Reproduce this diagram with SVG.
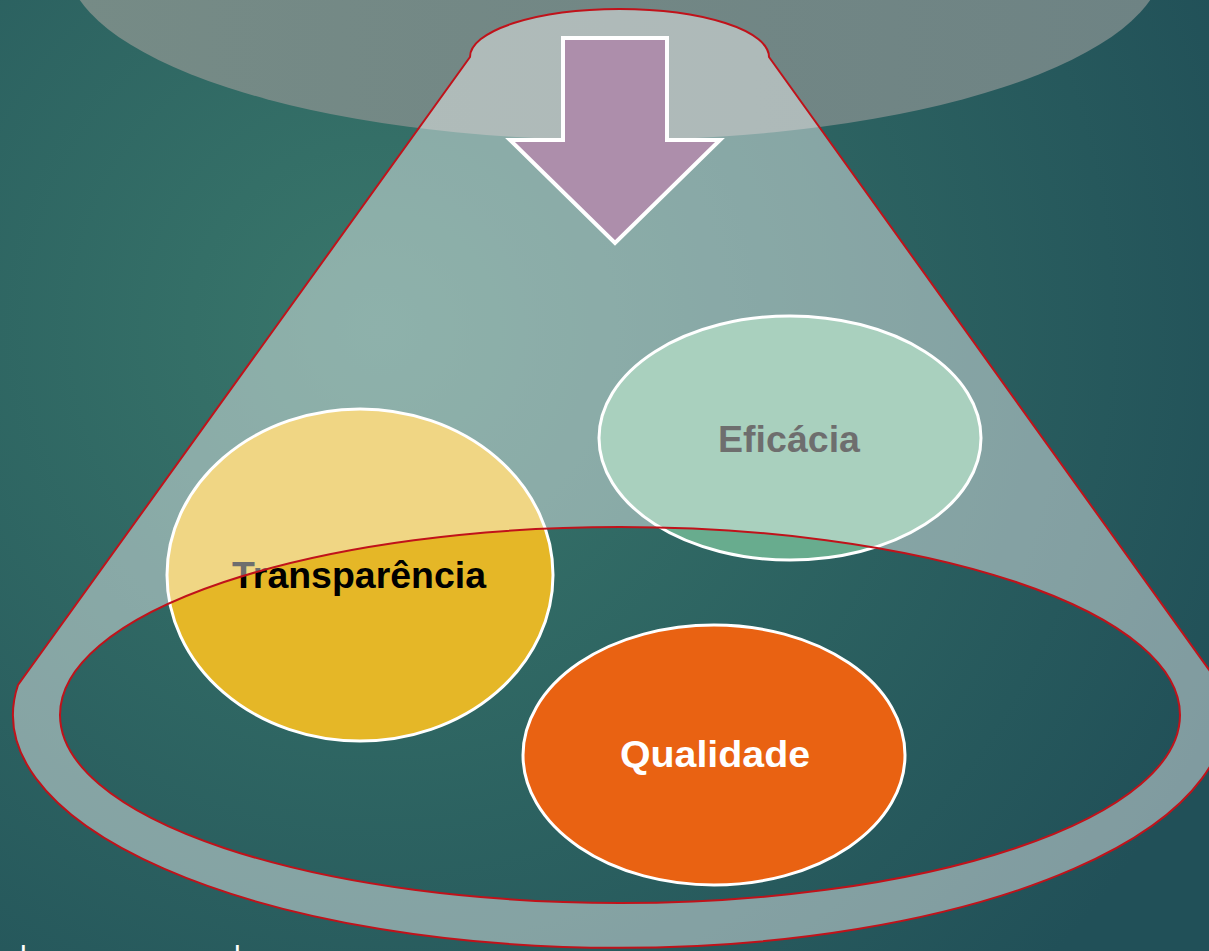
<svg xmlns="http://www.w3.org/2000/svg" width="1209" height="951" viewBox="0 0 1209 951">
  <defs>
    <radialGradient id="bg" gradientUnits="userSpaceOnUse" cx="380" cy="330" r="920">
      <stop offset="0" stop-color="#39776b"/>
      <stop offset="1" stop-color="#215058"/>
    </radialGradient>
    <linearGradient id="topg" x1="0" y1="0" x2="1" y2="0">
      <stop offset="0" stop-color="#768b86"/>
      <stop offset="1" stop-color="#6e8384"/>
    </linearGradient>
  </defs>
  <style>
    .node { stroke: #ffffff; stroke-width: 3; }
    .lbl { font-family: "Liberation Sans", Arial, sans-serif; font-weight: bold; font-size: 36px; text-anchor: middle; }
    .funnel { fill: #ffffff; fill-opacity: 0.43; stroke: #c0121a; stroke-width: 2; fill-rule: evenodd; }
  </style>
  <rect x="0" y="0" width="1209" height="951" fill="url(#bg)"/>
  <ellipse id="top-ellipse" cx="615" cy="-40" rx="549" ry="180" fill="url(#topg)"/>

  <g id="node-eficacia">
    <ellipse class="node" cx="790" cy="438" rx="191" ry="122" fill="#68ac8e"/>
    <text class="lbl" x="789" y="452" fill="#000000" textLength="142" lengthAdjust="spacingAndGlyphs">Eficácia</text>
  </g>
  <g id="node-transparencia">
    <ellipse class="node" cx="360" cy="575" rx="193" ry="166" fill="#e5b727"/>
    <text class="lbl" x="359" y="588" fill="#000000" textLength="254" lengthAdjust="spacingAndGlyphs">Transparência</text>
  </g>
  <g id="node-qualidade">
    <ellipse class="node" cx="714" cy="755" rx="191" ry="130" fill="#e96212"/>
    <text class="lbl" x="715" y="767" fill="#ffffff" textLength="190" lengthAdjust="spacingAndGlyphs">Qualidade</text>
  </g>

  <g id="funnel">
    <path class="funnel" d="M470,57 A149.5,48 0 0 1 769,57 L1220,685 A606,233 0 1 1 18,685 Z M60,715 A560,188 0 1 0 1180,715 A560,188 0 1 0 60,715 Z"/>
  </g>

  <g id="connectors">
    <path id="arrow" d="M563,38 L667,38 L667,140 L720,140 L615,243 L510,140 L563,140 Z" fill="#ad8eab" stroke="#ffffff" stroke-width="4"/>
  </g>

  <text x="20" y="967" font-family="Liberation Sans, Arial, sans-serif" font-size="30" fill="#ffffff">l</text>
  <text x="234" y="967" font-family="Liberation Sans, Arial, sans-serif" font-size="30" fill="#ffffff">l</text>
</svg>
